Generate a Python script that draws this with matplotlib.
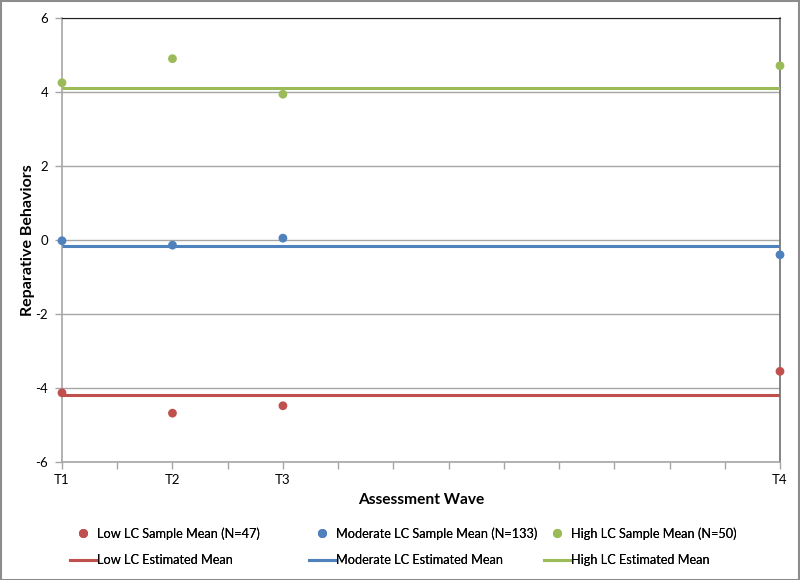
import matplotlib
matplotlib.use("Agg")
import matplotlib.pyplot as plt
from matplotlib.lines import Line2D
from matplotlib.patches import Rectangle

plt.rcParams['font.family'] = ['Lato', 'DejaVu Sans']
plt.rcParams['axes.unicode_minus'] = False

waves = ["T1", "T2", "T3", "T4"]
wave_time = [0, 6, 12, 39]

low_sample = [-4.13, -4.68, -4.48, -3.55]
mod_sample = [-0.02, -0.14, 0.05, -0.40]
high_sample = [4.25, 4.90, 3.94, 4.71]

low_est = -4.18
mod_est = -0.16
high_est = 4.12

sample_labels = ["Low LC Sample Mean (N=47)", "Moderate LC Sample Mean (N=133)", "High LC Sample Mean (N=50)"]
est_labels = ["Low LC Estimated Mean", "Moderate LC Estimated Mean", "High LC Estimated Mean"]

c_low, c_mod, c_high = "#C0504D", "#4F81BD", "#9BBB59"

fig = plt.figure(figsize=(8, 5.8), dpi=100)
ax = fig.add_axes([62/800, 1 - 462/580, (780-62)/800, (462-18)/580])

for series, est, col in [
    (low_sample, low_est, c_low),
    (mod_sample, mod_est, c_mod),
    (high_sample, high_est, c_high),
]:
    ax.plot(wave_time, [est] * len(wave_time), color=col, lw=2.2, zorder=3, solid_capstyle='butt')
    ax.scatter(wave_time, series, color=col, s=40, zorder=4, clip_on=False, edgecolors='none')

ax.set_xlim(0, 39)
ax.set_ylim(-6, 6)
ax.set_yticks(range(-6, 7, 2))
ax.set_xticks(range(0, 40, 3))
ax.set_xticklabels([waves[wave_time.index(t)] if t in wave_time else "" for t in range(0, 40, 3)])
ax.grid(axis='y', color='#A6A6A6', lw=1)
ax.set_axisbelow(True)

for s in ['left', 'bottom']:
    ax.spines[s].set_color('#A6A6A6')
    ax.spines[s].set_linewidth(1.2)
ax.spines['top'].set_color('#202020')
ax.spines['right'].set_color('#6E6E6E')
ax.spines['right'].set_linewidth(1.2)

ax.tick_params(axis='both', colors='#A6A6A6', labelcolor='#000000', labelsize=9.5, length=5, width=1)
ax.tick_params(axis='x', pad=4)
ax.tick_params(axis='y', pad=5)

ax.set_xlabel("Assessment Wave", fontsize=11.2, fontweight='bold', labelpad=5)
ax.set_ylabel("Reparative Behaviors", fontsize=11.5, fontweight='bold', labelpad=0)

legend_x = [70, 309, 544]
for col, sl, el, lx in zip([c_low, c_mod, c_high], sample_labels, est_labels, legend_x):
    hs = [Line2D([], [], ls='none', marker='o', color=col, markersize=5.5),
          Line2D([], [], color=col, lw=2.2)]
    leg = fig.legend(hs, [sl, el], ncol=1, loc='upper left', bbox_to_anchor=(lx/800, 1 - 527/580),
                     frameon=False, fontsize=9.2, handlelength=2.0, handletextpad=0.1,
                     labelspacing=1.15, borderaxespad=0.0, borderpad=0.0)
    fig.add_artist(leg)

fig.patches.append(Rectangle((0.5/800, 0.5/580), 1 - 1.5/800, 1 - 1.5/580, transform=fig.transFigure,
                             fill=False, edgecolor='#8C8C8C', lw=1.5))

fig.savefig("out.png", dpi=100)
